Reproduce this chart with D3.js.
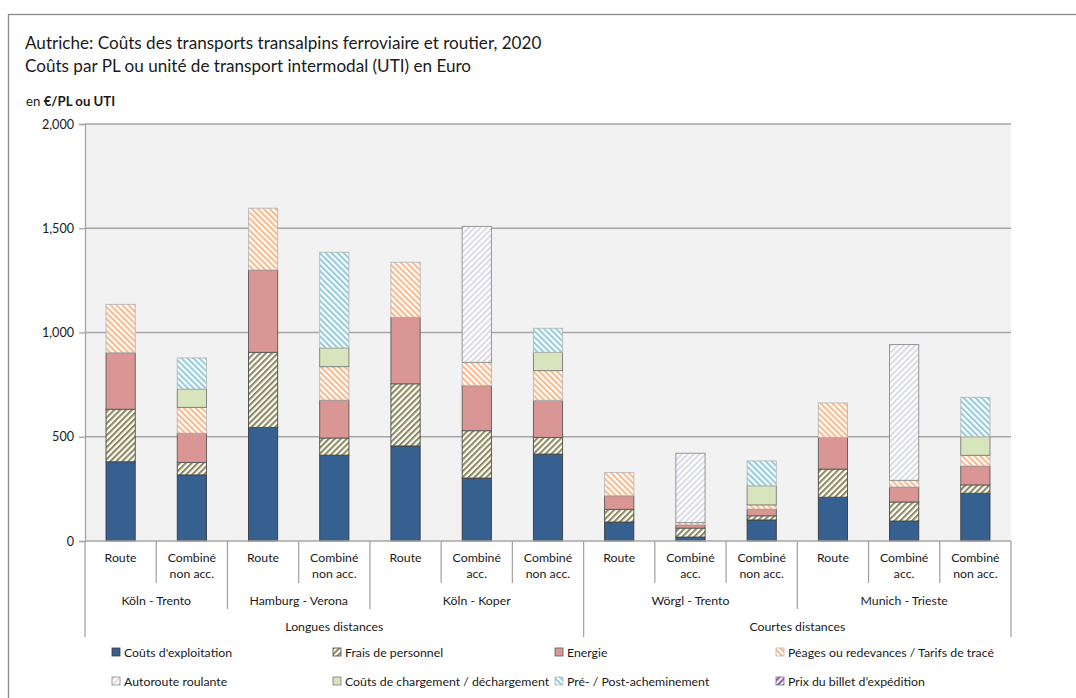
<!DOCTYPE html>
<html>
<head>
<meta charset="utf-8">
<script src="https://cdn.jsdelivr.net/npm/d3@7"></script>
<style>
  html, body { margin: 0; padding: 0; background: #ffffff; }
  svg { display: block; font-family: Lato, "Open Sans", sans-serif; }
</style>
</head>
<body>
<svg id="chart" width="1076" height="698"></svg>
<script>
// Categories: mode of transport, route, distance class
const modeLines = [
  ["Route"], ["Combiné", "non acc."],
  ["Route"], ["Combiné", "non acc."],
  ["Route"], ["Combiné", "acc."], ["Combiné", "non acc."],
  ["Route"], ["Combiné", "acc."], ["Combiné", "non acc."],
  ["Route"], ["Combiné", "acc."], ["Combiné", "non acc."]
];
const routes = ["Köln - Trento", "Hamburg - Verona", "Köln - Koper", "Wörgl - Trento", "Munich - Trieste"];
const routeSpans = [2, 2, 3, 3, 3];
const distances = ["Longues distances", "Courtes distances"];
const distanceSpans = [7, 6];

// Cost components, €/PL or UTI
const coutsExploitation = [380, 317, 545, 412, 456, 302, 417, 91, 19, 101, 210, 96, 229];
const fraisPersonnel    = [252, 60, 360, 82, 298, 227, 80, 61, 43, 20, 135, 91, 40];
const energie           = [271, 140, 395, 182, 319, 216, 178, 65, 15, 32, 152, 72, 91];
const peages            = [232, 124, 296, 160, 264, 112, 142, 111, 11, 20, 165, 32, 51];
const autorouteRoulante = [0, 0, 0, 0, 0, 652, 0, 0, 333, 0, 0, 651, 0];
const coutsChargement   = [0, 88, 0, 90, 0, 0, 88, 0, 0, 92, 0, 0, 89];
const prePostAchemin    = [0, 149, 0, 459, 0, 0, 115, 0, 0, 119, 0, 0, 189];
const prixBillet        = [0, 0, 0, 0, 0, 0, 0, 0, 0, 0, 0, 0, 0];

const yTicks = [0, 500, 1000, 1500, 2000];

const seriesNames = [
  "Coûts d'exploitation", "Frais de personnel", "Energie",
  "Péages ou redevances / Tarifs de tracé", "Autoroute roulante",
  "Coûts de chargement / déchargement", "Pré- / Post-acheminement",
  "Prix du billet d’expédition"
];
const seriesValues = [coutsExploitation, fraisPersonnel, energie, peages,
  autorouteRoulante, coutsChargement, prePostAchemin, prixBillet];

// Fill style of each component
const styles = [
  { fill: "#36608f", stroke: "#3a3a3a" },
  { pattern: "p-personnel", color: "#8e8a60", dir: 45, stroke: "#4a4a40" },
  { fill: "#da9694", stroke: "#5a5a5a" },
  { pattern: "p-peages", color: "#fbb98a", dir: -45, stroke: "#b8b8b8" },
  { pattern: "p-autoroute", color: "#dcdbe8", dir: 45, stroke: "#8c8c8c" },
  { fill: "#d7e4bc", stroke: "#7a7a7a" },
  { pattern: "p-prepost", color: "#93cddd", dir: -45, stroke: "#b8b8b8" },
  { pattern: "p-billet", color: "#8064a2", dir: 45, stroke: "#8064a2" }
];

const svg = d3.select("#chart");
const textColor = "#1a1a1a";
const labelSize = 12.3;

// Hatch patterns
const defs = svg.append("defs");
styles.forEach(s => {
  if (!s.pattern) return;
  const p = defs.append("pattern")
    .attr("id", s.pattern)
    .attr("patternUnits", "userSpaceOnUse")
    .attr("width", 4.2).attr("height", 4.2)
    .attr("patternTransform", `rotate(${s.dir})`);
  p.append("rect").attr("width", 4.2).attr("height", 4.2).attr("fill", "#ffffff");
  p.append("rect").attr("width", 2.1).attr("height", 4.2).attr("fill", s.color);
});
const fillOf = s => s.pattern ? `url(#${s.pattern})` : s.fill;

// Outer frame
svg.append("rect")
  .attr("x", 8.5).attr("y", 14.5).attr("width", 1100).attr("height", 720)
  .attr("fill", "none").attr("stroke", "#8a8a8a").attr("stroke-width", 1.3);

// Titles
svg.append("text").attr("x", 25).attr("y", 49)
  .attr("font-size", 17.1).attr("fill", textColor)
  .text("Autriche: Coûts des transports transalpins ferroviaire et routier, 2020");
svg.append("text").attr("x", 25).attr("y", 72)
  .attr("font-size", 17.1).attr("fill", textColor)
  .text("Coûts par PL ou unité de transport intermodal (UTI) en Euro");
const unit = svg.append("text").attr("x", 26).attr("y", 106)
  .attr("font-size", 13.2).attr("fill", textColor);
unit.append("tspan").text("en ");
unit.append("tspan").attr("font-weight", "bold").text("€/PL ou UTI");

// Plot area
const plot = { left: 85, right: 1011, top: 124, bottom: 541 };
const idx = d3.range(modeLines.length);
const x = d3.scaleBand().domain(idx).range([plot.left, plot.right]).paddingInner(0).paddingOuter(0);
const y = d3.scaleLinear().domain([0, 2000]).range([plot.bottom, plot.top]);

svg.append("rect")
  .attr("x", plot.left).attr("y", plot.top)
  .attr("width", plot.right - plot.left).attr("height", plot.bottom - plot.top)
  .attr("fill", "#f2f2f2");

// Gridlines
svg.append("g").selectAll("line").data(yTicks.filter(t => t > 0)).join("line")
  .attr("x1", plot.left).attr("x2", plot.right)
  .attr("y1", d => y(d)).attr("y2", d => y(d))
  .attr("stroke", "#a6a6a6").attr("stroke-width", 1.5);

// Y axis
const yAxis = svg.append("g")
  .attr("transform", `translate(${plot.left},0)`)
  .call(d3.axisLeft(y).tickValues(yTicks).tickFormat(d3.format(",")).tickSize(6).tickPadding(5));
yAxis.select(".domain").attr("stroke", "#a6a6a6").attr("stroke-width", 1.3);
yAxis.selectAll(".tick line").attr("stroke", "#a6a6a6").attr("stroke-width", 1.3);
yAxis.selectAll(".tick text").attr("font-size", 12.6).attr("fill", textColor)
  .attr("font-family", "Lato, sans-serif");

// Stacked bars
const rows = idx.map(i => {
  const r = { i };
  seriesNames.forEach((n, k) => r[n] = seriesValues[k][i]);
  return r;
});
const stacked = d3.stack().keys(seriesNames)(rows);
const barW = x.bandwidth() * 0.41;
stacked.forEach((layer, k) => {
  svg.append("g").selectAll("rect")
    .data(layer.filter(d => d[1] - d[0] > 0))
    .join("rect")
    .attr("x", d => x(d.data.i) + (x.bandwidth() - barW) / 2)
    .attr("width", barW)
    .attr("y", d => y(d[1]))
    .attr("height", d => y(d[0]) - y(d[1]))
    .attr("fill", fillOf(styles[k]))
    .attr("stroke", styles[k].stroke)
    .attr("stroke-width", 0.9);
});

// Category axis with nested levels
const axisCol = "#a6a6a6";
const cat = svg.append("g");
cat.append("line").attr("x1", plot.left).attr("x2", plot.right)
  .attr("y1", plot.bottom).attr("y2", plot.bottom)
  .attr("stroke", axisCol).attr("stroke-width", 1.3);

const routeEnds = d3.cumsum(routeSpans);
const distEnds = d3.cumsum(distanceSpans);
const levelBottom = [583, 609, 637];
d3.range(modeLines.length + 1).forEach(b => {
  let lvl = 0;
  if (b === 0 || b === modeLines.length || distEnds.includes(b)) lvl = 2;
  else if (routeEnds.includes(b)) lvl = 1;
  const xx = b === modeLines.length ? plot.right : x(b);
  cat.append("line").attr("x1", xx).attr("x2", xx)
    .attr("y1", plot.bottom).attr("y2", levelBottom[lvl])
    .attr("stroke", axisCol).attr("stroke-width", 1.3);
});

cat.selectAll("text.mode").data(idx).join("text")
  .attr("class", "mode")
  .attr("x", d => x(d) + x.bandwidth() / 2)
  .attr("y", 562)
  .attr("text-anchor", "middle").attr("font-size", labelSize).attr("fill", textColor)
  .each(function(d) {
    modeLines[d].forEach((line, j) => {
      d3.select(this).append("tspan")
        .attr("x", x(d) + x.bandwidth() / 2)
        .attr("dy", j === 0 ? 0 : 16)
        .text(line);
    });
  });

let start = 0;
routes.forEach((r, k) => {
  const x0 = x(start), x1 = start + routeSpans[k] === modeLines.length ? plot.right : x(start + routeSpans[k]);
  cat.append("text").attr("x", (x0 + x1) / 2).attr("y", 605)
    .attr("text-anchor", "middle").attr("font-size", labelSize).attr("fill", textColor).text(r);
  start += routeSpans[k];
});
start = 0;
distances.forEach((dname, k) => {
  const x0 = x(start), x1 = start + distanceSpans[k] === modeLines.length ? plot.right : x(start + distanceSpans[k]);
  cat.append("text").attr("x", (x0 + x1) / 2).attr("y", 631)
    .attr("text-anchor", "middle").attr("font-size", labelSize).attr("fill", textColor).text(dname);
  start += distanceSpans[k];
});

// Legend
const legendX = [112, 333, 555, 776];
const legendY = [652, 681];
const legend = svg.append("g");
seriesNames.forEach((name, k) => {
  const lx = legendX[k % 4], ly = legendY[Math.floor(k / 4)];
  legend.append("rect").attr("x", lx).attr("y", ly - 4).attr("width", 8).attr("height", 8)
    .attr("fill", fillOf(styles[k])).attr("stroke", styles[k].stroke).attr("stroke-width", 0.8);
  legend.append("text").attr("x", lx + 12).attr("y", ly + 4.5)
    .attr("font-size", labelSize).attr("fill", textColor).text(name);
});
</script>
</body>
</html>
